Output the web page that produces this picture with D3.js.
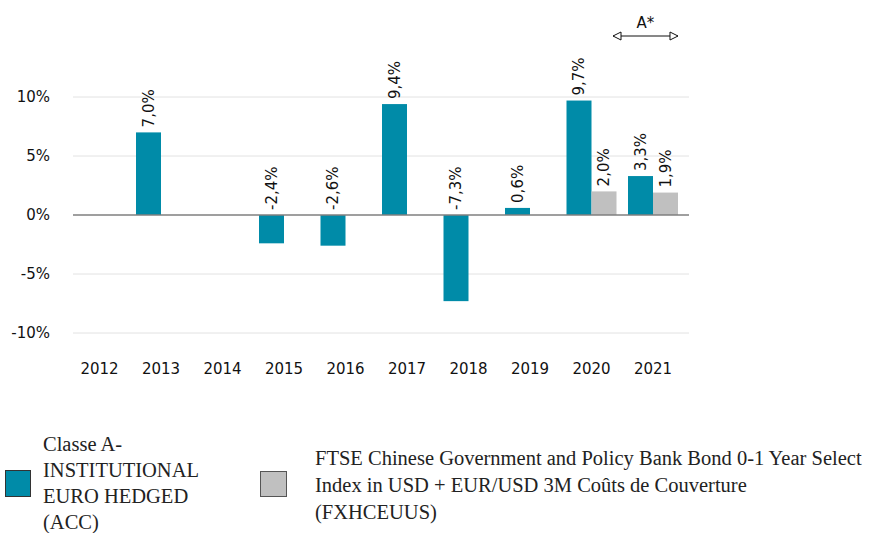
<!DOCTYPE html>
<html>
<head>
<meta charset="utf-8">
<script src="https://cdn.jsdelivr.net/npm/d3@7"></script>
<style>
  body { margin: 0; background: #fff; }
  svg { display: block; }
  .tick-lbl { font-family: "DejaVu Sans", sans-serif; font-size: 15px; fill: #111; }
  .leg { font-family: "Liberation Serif", serif; font-size: 20.5px; fill: #222; }
</style>
</head>
<body>
<svg id="chart" width="870" height="533"></svg>
<script>
// data
var years = ["2012", "2013", "2014", "2015", "2016", "2017", "2018", "2019", "2020", "2021"];
var fundValues = [null, 7.0, null, -2.4, -2.6, 9.4, -7.3, 0.6, 9.7, 3.3];
var indexValues = [null, null, null, null, null, null, null, null, 2.0, 1.9];
var yTicks = [-10, -5, 0, 5, 10];
var seriesNames = ["fund", "index"];
var seriesColors = ["#008ba8", "#c0c0c0"];
var legendFund = ["Classe A-", "INSTITUTIONAL", "EURO HEDGED", "(ACC)"];
var legendIndex = ["FTSE Chinese Government and Policy Bank Bond 0-1 Year Select",
                   "Index in USD + EUR/USD 3M Coûts de Couverture",
                   "(FXHCEUUS)"];

var svg = d3.select("#chart");

var x = d3.scaleBand()
          .domain(years)
          .range([68.75, 683.75])
          .paddingInner(0.187)
          .paddingOuter(0.0935);

var x1 = d3.scaleBand()
           .domain(seriesNames)
           .range([0, x.bandwidth()]);

var y = d3.scaleLinear()
          .domain([-12, 15])
          .range([215 + 12 * 11.8, 215 - 15 * 11.8]);

var gridL = 73, gridR = 689;

// grid
svg.append("g")
   .selectAll("line")
   .data(yTicks.filter(function(d){ return d !== 0; }))
   .enter()
   .append("line")
   .attr("x1", gridL).attr("x2", gridR)
   .attr("y1", function(d){ return y(d); })
   .attr("y2", function(d){ return y(d); })
   .attr("stroke", "#e2e2e2")
   .attr("stroke-width", 1);

// y labels
svg.append("g")
   .selectAll("text")
   .data(yTicks)
   .enter()
   .append("text")
   .attr("class", "tick-lbl")
   .attr("x", 50)
   .attr("y", function(d){ return y(d); })
   .attr("dy", "0.36em")
   .attr("text-anchor", "end")
   .text(function(d){ return d + "%"; });

// x labels
svg.append("g")
   .selectAll("text")
   .data(years)
   .enter()
   .append("text")
   .attr("class", "tick-lbl")
   .attr("x", function(d){ return x(d) + x.bandwidth() / 2; })
   .attr("y", 374)
   .attr("text-anchor", "middle")
   .text(function(d){ return d; });

// bars
var barData = [];
for (var i = 0; i < years.length; i++) {
    if (fundValues[i] !== null) barData.push({ year: years[i], s: 0, v: fundValues[i] });
    if (indexValues[i] !== null) barData.push({ year: years[i], s: 1, v: indexValues[i] });
}

svg.append("g")
   .selectAll("rect")
   .data(barData)
   .enter()
   .append("rect")
   .attr("x", function(d){ return x(d.year) + x1(seriesNames[d.s]); })
   .attr("width", x1.bandwidth())
   .attr("y", function(d){ return y(Math.max(d.v, 0)); })
   .attr("height", function(d){ return Math.abs(y(d.v) - y(0)); })
   .attr("fill", function(d){ return seriesColors[d.s]; });

// zero line
svg.append("line")
   .attr("x1", gridL).attr("x2", gridR)
   .attr("y1", y(0)).attr("y2", y(0))
   .attr("stroke", "#7f7f7f")
   .attr("stroke-width", 1.5);

// value labels
svg.append("g")
   .selectAll("text")
   .data(barData)
   .enter()
   .append("text")
   .attr("class", "tick-lbl")
   .attr("transform", function(d){
        var cx = x(d.year) + x1(seriesNames[d.s]) + x1.bandwidth() / 2;
        var cy = y(Math.max(d.v, 0)) - 5;
        return "translate(" + cx + "," + cy + ") rotate(-90)";
   })
   .attr("dy", "0.36em")
   .attr("text-anchor", "start")
   .text(function(d){ return d.v.toFixed(1).replace(".", ",") + "%"; });

// A* annotation
var defs = svg.append("defs");
defs.append("marker")
    .attr("id", "openTri")
    .attr("viewBox", "0 0 10 10")
    .attr("refX", 9).attr("refY", 5)
    .attr("markerWidth", 10).attr("markerHeight", 10)
    .attr("markerUnits", "userSpaceOnUse")
    .attr("orient", "auto-start-reverse")
    .append("path")
    .attr("d", "M1,1 L9,5 L1,9 Z")
    .attr("fill", "#fff")
    .attr("stroke", "#111")
    .attr("stroke-width", 1);

var aStart = x("2021") - 15, aEnd = x("2021") + x.bandwidth();
svg.append("line")
   .attr("x1", aStart).attr("x2", aEnd)
   .attr("y1", 36).attr("y2", 36)
   .attr("stroke", "#111")
   .attr("stroke-width", 1)
   .attr("marker-start", "url(#openTri)")
   .attr("marker-end", "url(#openTri)");

svg.append("text")
   .attr("class", "tick-lbl")
   .attr("x", (aStart + aEnd) / 2)
   .attr("y", 28)
   .attr("text-anchor", "middle")
   .text("A*");

// legend
var leg = svg.append("g");
leg.append("rect")
   .attr("x", 5.5).attr("y", 470.5).attr("width", 25).attr("height", 26)
   .attr("fill", seriesColors[0]).attr("stroke", "#333").attr("stroke-width", 1);
leg.append("rect")
   .attr("x", 260.5).attr("y", 471.5).attr("width", 26).attr("height", 25)
   .attr("fill", seriesColors[1]).attr("stroke", "#555").attr("stroke-width", 1);

leg.append("g")
   .selectAll("text")
   .data(legendFund)
   .enter()
   .append("text")
   .attr("class", "leg")
   .attr("x", 43)
   .attr("y", function(d, i){ return 451 + i * 26; })
   .text(function(d){ return d; });

leg.append("g")
   .selectAll("text")
   .data(legendIndex)
   .enter()
   .append("text")
   .attr("class", "leg")
   .attr("x", 315)
   .attr("y", function(d, i){ return 465 + i * 27; })
   .text(function(d){ return d; });
</script>
</body>
</html>
